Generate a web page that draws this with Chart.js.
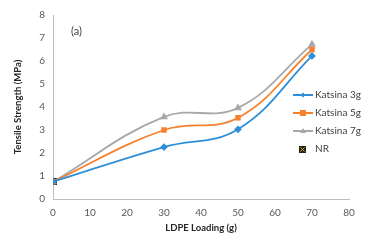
<!DOCTYPE html>
<html>
<head>
<meta charset="utf-8">
<script src="https://cdn.jsdelivr.net/npm/chart.js@4.4.1/dist/chart.umd.min.js"></script>
<style>
  html, body { margin: 0; padding: 0; background: #fff; }
  #wrap { position: relative; width: 391px; height: 244px; }
</style>
</head>
<body>
<div id="wrap"><canvas id="chart" width="391" height="244"></canvas></div>
<script>
// data
const loading = [0, 30, 50, 70];
const katsina3 = [0.75, 2.26, 3.03, 6.22];
const katsina5 = [0.75, 3.0, 3.53, 6.5];
const katsina7 = [0.75, 3.57, 3.96, 6.72];
const nrLoading = [0];
const nrValue = [0.75];
const seriesNames = ['Katsina 3g', 'Katsina 5g', 'Katsina 7g', 'NR'];
const xTicks = [0, 10, 20, 30, 40, 50, 60, 70, 80];
const yTicks = [0, 1, 2, 3, 4, 5, 6, 7, 8];

const BLUE = '#2e8fd8';
const ORANGE = '#f7802d';
const GRAY = '#a8a8a8';
const FONT = 'Lato, "Open Sans", sans-serif';

const toPoints = (xs, ys) => xs.map((x, i) => ({ x: x, y: ys[i] }));

// NR marker: dark square with a small cross
function nrMarker() {
    const c = document.createElement('canvas');
    c.width = 7; c.height = 7;
    const g = c.getContext('2d');
    g.fillStyle = '#2a2410';
    g.fillRect(0, 0, 7, 7);
    g.strokeStyle = '#c9a640';
    g.lineWidth = 1;
    g.beginPath();
    g.moveTo(1.5, 1.5); g.lineTo(5.5, 5.5);
    g.moveTo(5.5, 1.5); g.lineTo(1.5, 5.5);
    g.stroke();
    return c;
}
const nrImg = nrMarker();

const legendPlugin = {
    id: 'insideLegend',
    afterDraw(chart) {
        const ctx = chart.ctx;
        const rows = [95, 113, 131, 149];
        ctx.save();
        ctx.font = '10px ' + FONT;
        ctx.textBaseline = 'middle';
        chart.data.datasets.forEach((ds, i) => {
            const y = rows[i];
            if (i < 3) {
                ctx.strokeStyle = ds.borderColor;
                ctx.lineWidth = 2;
                ctx.beginPath();
                ctx.moveTo(293, y); ctx.lineTo(313, y);
                ctx.stroke();
                ctx.fillStyle = ds.pointBackgroundColor;
                ctx.beginPath();
                if (ds.pointStyle === 'rectRot') {
                    ctx.moveTo(303, y - 2.5); ctx.lineTo(305.5, y); ctx.lineTo(303, y + 2.5); ctx.lineTo(300.5, y);
                } else if (ds.pointStyle === 'rect') {
                    ctx.rect(300, y - 3, 6, 6);
                } else {
                    ctx.moveTo(303, y - 3); ctx.lineTo(306, y + 2); ctx.lineTo(300, y + 2);
                }
                ctx.fill();
            } else {
                ctx.drawImage(nrImg, 299, y - 3);
            }
            ctx.fillStyle = '#404040';
            ctx.fillText(ds.label, 315, y);
        });
        ctx.font = '11px ' + FONT;
        ctx.fillText('(a)', 71, 31);
        ctx.restore();
    }
};

new Chart(document.getElementById('chart'), {
    type: 'scatter',
    data: {
        datasets: [
            {
                label: seriesNames[0],
                data: toPoints(loading, katsina3),
                showLine: true, tension: 0.4,
                borderColor: BLUE, borderWidth: 1.8,
                pointStyle: 'rectRot', pointRadius: 2.6,
                pointBackgroundColor: BLUE, pointBorderColor: BLUE
            },
            {
                label: seriesNames[1],
                data: toPoints(loading, katsina5),
                showLine: true, tension: 0.4,
                borderColor: ORANGE, borderWidth: 1.8,
                pointStyle: 'rect', pointRadius: 2.6,
                pointBackgroundColor: ORANGE, pointBorderColor: ORANGE
            },
            {
                label: seriesNames[2],
                data: toPoints(loading, katsina7),
                showLine: true, tension: 0.4,
                borderColor: GRAY, borderWidth: 1.8,
                pointStyle: 'triangle', pointRadius: 2.8,
                pointBackgroundColor: GRAY, pointBorderColor: GRAY
            },
            {
                label: seriesNames[3],
                data: toPoints(nrLoading, nrValue),
                showLine: false,
                pointStyle: nrImg, pointRadius: 3.5
            }
        ]
    },
    options: {
        responsive: false,
        animation: false,
        layout: { padding: { left: 12, right: 42, top: 15, bottom: 6 } },
        plugins: { legend: { display: false }, tooltip: { enabled: false } },
        scales: {
            x: {
                type: 'linear', min: 0, max: 80,
                afterBuildTicks: s => { s.ticks = xTicks.map(v => ({ value: v })); },
                grid: { display: false, drawTicks: false },
                border: { color: '#bfbfbf', width: 1 },
                ticks: { color: '#595959', font: { family: FONT, size: 10 }, padding: 8 },
                title: { display: true, text: 'LDPE Loading (g)', color: '#262626',
                         font: { family: FONT, size: 9.5, weight: 'bold' }, padding: { top: 5 } },
                afterFit: s => { s.height = 39; }
            },
            y: {
                min: 0, max: 8,
                afterBuildTicks: s => { s.ticks = yTicks.map(v => ({ value: v })); },
                grid: { display: false, drawTicks: false },
                border: { color: '#bfbfbf', width: 1 },
                ticks: { color: '#595959', font: { family: FONT, size: 10 }, padding: 8 },
                title: { display: true, text: 'Tensile Strength (MPa)', color: '#262626',
                         font: { family: FONT, size: 9.5, weight: 'bold' }, padding: 0 },
                afterFit: s => { s.width = 41; }
            }
        }
    },
    plugins: [legendPlugin]
});
</script>
</body>
</html>
